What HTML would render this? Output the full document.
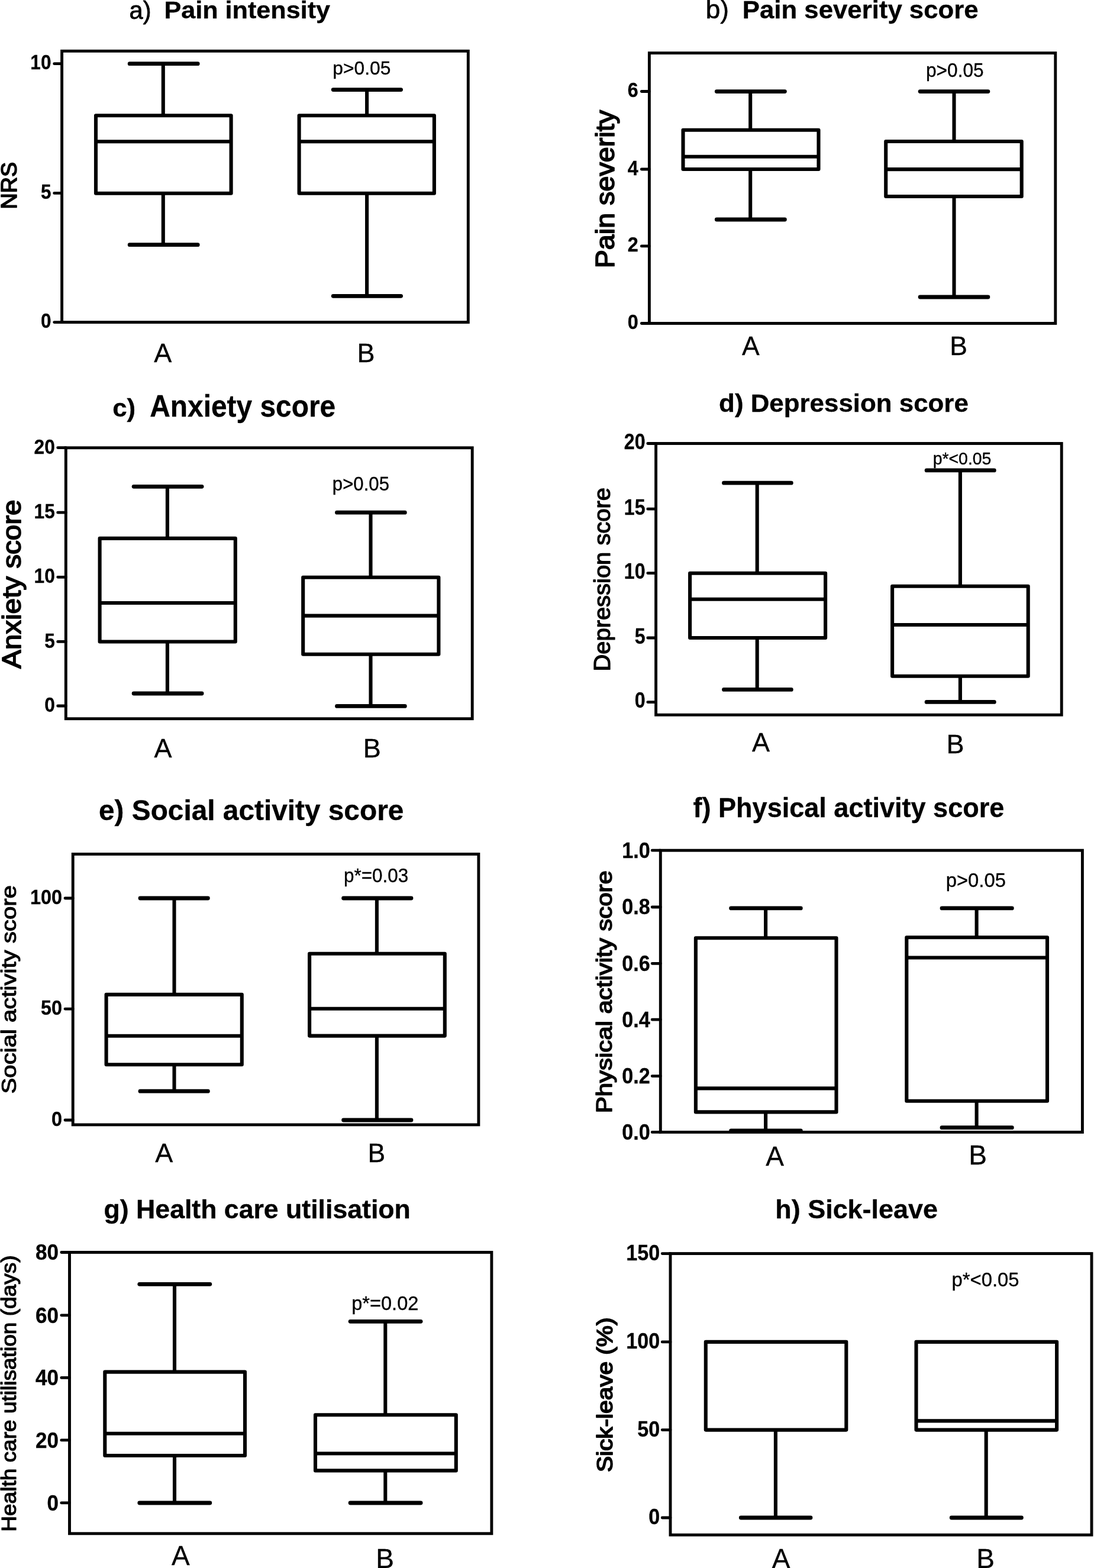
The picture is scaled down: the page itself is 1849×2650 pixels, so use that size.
<!DOCTYPE html>
<html lang="en">
<head>
<meta charset="utf-8">
<title>Box plots: groups A and B</title>
<style>
html,body{margin:0;padding:0;background:#fff;}
body{width:1849px;height:2650px;overflow:hidden;}
svg{display:block;font-family:"Liberation Sans",Arial,Helvetica,sans-serif;fill:#000;}
text{stroke:#000;stroke-width:0.35px;stroke-linejoin:round;}
.ln{fill:none;stroke:#000;stroke-width:6.1;stroke-linecap:round;stroke-linejoin:round;}
.ln .fr{stroke-linejoin:miter;stroke-width:4.9;}
.ln .cp{stroke-width:6.8;}
.ln .wh{stroke-linecap:butt;}
.ln .tk{stroke-width:4.8;}
</style>
</head>
<body>
<svg width="1849" height="2650" viewBox="0 0 1849 2650">
<rect width="1849" height="2650" fill="#fff"/>
<!-- panel a -->
<g class="ln">
<rect class="fr" x="104.6" y="86.3" width="686.7" height="458.3"/>
<path class="tk" d="M91.7 107.7H104.6M91.7 326.4H104.6M91.7 544.6H104.6"/>
<path class="wh" d="M275.8 107.7V195.3"/><path class="cp" d="M219.2 107.7H334.2"/>
<path class="wh" d="M275.8 326.7V413.7"/><path class="cp" d="M219.2 413.7H334.2"/>
<rect x="162.0" y="195.3" width="228.6" height="131.4"/>
<path class="wh" d="M162.0 239.2H390.6"/>
<path class="wh" d="M620.1 151.6V195.2"/><path class="cp" d="M563.2 151.6H677.6"/>
<path class="wh" d="M620.1 326.7V500.3"/><path class="cp" d="M563.2 500.3H677.6"/>
<rect x="505.6" y="195.2" width="228.3" height="131.5"/>
<path class="wh" d="M505.6 239.2H733.9"/>
</g>
<text transform="translate(86.4 116.9) scale(0.900 1)" font-size="35.0" font-weight="bold" text-anchor="end">10</text>
<text transform="translate(86.4 335.6) scale(0.900 1)" font-size="35.0" font-weight="bold" text-anchor="end">5</text>
<text transform="translate(86.4 553.8) scale(0.900 1)" font-size="35.0" font-weight="bold" text-anchor="end">0</text>
<text x="218.5" y="31.6" font-size="43.0" font-weight="normal" textLength="37.0" lengthAdjust="spacingAndGlyphs" style="stroke-width:0.8px">a)</text>
<text x="277.5" y="31.2" font-size="41.5" font-weight="bold" textLength="280.5" lengthAdjust="spacingAndGlyphs">Pain intensity</text>
<text x="562.3" y="125.6" font-size="32.0" font-weight="normal" textLength="98.0" lengthAdjust="spacingAndGlyphs">p&gt;0.05</text>
<text x="275.3" y="611.7" font-size="45.0" font-weight="normal" text-anchor="middle">A</text>
<text x="618.4" y="611.7" font-size="45.0" font-weight="normal" text-anchor="middle">B</text>
<text transform="translate(28.3 353.5) rotate(-90)" x="0" y="0" font-size="36.0" font-weight="normal" textLength="79.5" lengthAdjust="spacingAndGlyphs" style="stroke-width:1.6px">NRS</text>
<!-- panel b -->
<g class="ln">
<rect class="fr" x="1097.4" y="89.6" width="686.4" height="456.9"/>
<path class="tk" d="M1084.3 154.5H1097.4M1084.3 286.0H1097.4M1084.3 415.9H1097.4M1084.3 546.5H1097.4"/>
<path class="wh" d="M1268.2 154.6V219.7"/><path class="cp" d="M1211.3 154.6H1326.4"/>
<path class="wh" d="M1268.2 286.0V371.0"/><path class="cp" d="M1211.3 371.0H1326.4"/>
<rect x="1154.5" y="219.7" width="229.0" height="66.3"/>
<path class="wh" d="M1154.5 264.8H1383.5"/>
<path class="wh" d="M1612.5 154.6V239.0"/><path class="cp" d="M1555.1 154.6H1669.9"/>
<path class="wh" d="M1612.5 332.0V502.0"/><path class="cp" d="M1555.1 502.0H1669.9"/>
<rect x="1497.2" y="239.0" width="229.5" height="93.0"/>
<path class="wh" d="M1497.2 286.1H1726.7"/>
</g>
<text transform="translate(1078.8 164.0) scale(0.900 1)" font-size="36.0" font-weight="bold" text-anchor="end">6</text>
<text transform="translate(1078.8 295.5) scale(0.900 1)" font-size="36.0" font-weight="bold" text-anchor="end">4</text>
<text transform="translate(1078.8 425.4) scale(0.900 1)" font-size="36.0" font-weight="bold" text-anchor="end">2</text>
<text transform="translate(1078.8 556.0) scale(0.900 1)" font-size="36.0" font-weight="bold" text-anchor="end">0</text>
<text x="1192.8" y="31.0" font-size="45.0" font-weight="normal" textLength="39.2" lengthAdjust="spacingAndGlyphs" style="stroke-width:0.6px">b)</text>
<text x="1254.8" y="30.9" font-size="42.5" font-weight="bold" textLength="398.8" lengthAdjust="spacingAndGlyphs">Pain severity score</text>
<text x="1565.0" y="130.4" font-size="33.5" font-weight="normal" textLength="97.7" lengthAdjust="spacingAndGlyphs">p&gt;0.05</text>
<text x="1268.8" y="599.8" font-size="44.5" font-weight="normal" text-anchor="middle">A</text>
<text x="1620.0" y="599.8" font-size="44.5" font-weight="normal" text-anchor="middle">B</text>
<text transform="translate(1038.2 453.3) rotate(-90)" x="0" y="0" font-size="43.5" font-weight="normal" textLength="267.3" lengthAdjust="spacingAndGlyphs" style="stroke-width:1.7px">Pain severity</text>
<!-- panel c -->
<g class="ln">
<rect class="fr" x="111.3" y="756.8" width="686.9" height="457.9"/>
<path class="tk" d="M97.7 756.6H111.3M97.7 866.2H111.3M97.7 975.3H111.3M97.7 1084.4H111.3M97.7 1193.0H111.3"/>
<path class="wh" d="M282.9 822.3V909.9"/><path class="cp" d="M226.1 822.3H341.1"/>
<path class="wh" d="M282.9 1084.5V1172.0"/><path class="cp" d="M226.1 1172.0H341.1"/>
<rect x="168.6" y="909.9" width="229.2" height="174.6"/>
<path class="wh" d="M168.6 1019.0H397.8"/>
<path class="wh" d="M626.5 866.2V975.7"/><path class="cp" d="M569.5 866.2H684.3"/>
<path class="wh" d="M626.5 1105.8V1193.4"/><path class="cp" d="M569.5 1193.4H684.3"/>
<rect x="512.2" y="975.7" width="229.2" height="130.1"/>
<path class="wh" d="M512.2 1040.6H741.4"/>
</g>
<text transform="translate(92.8 766.7) scale(0.880 1)" font-size="36.0" font-weight="bold" text-anchor="end">20</text>
<text transform="translate(92.8 876.3) scale(0.880 1)" font-size="36.0" font-weight="bold" text-anchor="end">15</text>
<text transform="translate(92.8 985.4) scale(0.880 1)" font-size="36.0" font-weight="bold" text-anchor="end">10</text>
<text transform="translate(92.8 1094.5) scale(0.880 1)" font-size="36.0" font-weight="bold" text-anchor="end">5</text>
<text transform="translate(92.8 1203.1) scale(0.880 1)" font-size="36.0" font-weight="bold" text-anchor="end">0</text>
<text x="190.2" y="703.8" font-size="43.0" font-weight="bold" textLength="39.0" lengthAdjust="spacingAndGlyphs">c)</text>
<text x="253.2" y="703.8" font-size="52.0" font-weight="bold" textLength="314.0" lengthAdjust="spacingAndGlyphs">Anxiety score</text>
<text x="561.8" y="828.8" font-size="32.5" font-weight="normal" textLength="96.2" lengthAdjust="spacingAndGlyphs">p&gt;0.05</text>
<text x="275.4" y="1279.8" font-size="45.0" font-weight="normal" text-anchor="middle">A</text>
<text x="628.8" y="1279.8" font-size="45.0" font-weight="normal" text-anchor="middle">B</text>
<text transform="translate(34.6 1129.9) rotate(-90)" x="0" y="0" font-size="44.5" font-weight="normal" textLength="285.4" lengthAdjust="spacingAndGlyphs" style="stroke-width:1.7px">Anxiety score</text>
<!-- panel d -->
<g class="ln">
<rect class="fr" x="1108.6" y="749.5" width="685.6" height="458.7"/>
<path class="tk" d="M1094.8 749.5H1108.6M1094.8 860.2H1108.6M1094.8 968.6H1108.6M1094.8 1078.0H1108.6M1094.8 1186.6H1108.6"/>
<path class="wh" d="M1279.7 816.2V968.7"/><path class="cp" d="M1223.5 816.2H1337.3"/>
<path class="wh" d="M1279.7 1078.0V1165.4"/><path class="cp" d="M1223.5 1165.4H1337.3"/>
<rect x="1166.1" y="968.7" width="229.0" height="109.3"/>
<path class="wh" d="M1166.1 1012.8H1395.1"/>
<path class="wh" d="M1622.9 794.9V990.8"/><path class="cp" d="M1566.1 794.9H1680.3"/>
<path class="wh" d="M1622.9 1142.8V1186.4"/><path class="cp" d="M1566.1 1186.4H1680.3"/>
<rect x="1508.1" y="990.8" width="229.6" height="152.0"/>
<path class="wh" d="M1508.1 1056.0H1737.7"/>
</g>
<text transform="translate(1090.5 759.0) scale(0.880 1)" font-size="36.5" font-weight="bold" text-anchor="end">20</text>
<text transform="translate(1090.5 869.7) scale(0.880 1)" font-size="36.5" font-weight="bold" text-anchor="end">15</text>
<text transform="translate(1090.5 978.1) scale(0.880 1)" font-size="36.5" font-weight="bold" text-anchor="end">10</text>
<text transform="translate(1090.5 1087.5) scale(0.880 1)" font-size="36.5" font-weight="bold" text-anchor="end">5</text>
<text transform="translate(1090.5 1196.1) scale(0.880 1)" font-size="36.5" font-weight="bold" text-anchor="end">0</text>
<text x="1215.1" y="695.8" font-size="42.5" font-weight="bold" textLength="421.7" lengthAdjust="spacingAndGlyphs">d) Depression score</text>
<text x="1576.7" y="784.6" font-size="29.5" font-weight="normal" textLength="98.7" lengthAdjust="spacingAndGlyphs">p*&lt;0.05</text>
<text x="1286.0" y="1270.4" font-size="45.0" font-weight="normal" text-anchor="middle">A</text>
<text x="1614.6" y="1273.2" font-size="45.0" font-weight="normal" text-anchor="middle">B</text>
<text transform="translate(1031.0 1134.6) rotate(-90)" x="0" y="0" font-size="39.0" font-weight="normal" textLength="310.6" lengthAdjust="spacingAndGlyphs" style="stroke-width:1.3px">Depression score</text>
<!-- panel e -->
<g class="ln">
<rect class="fr" x="123.2" y="1443.5" width="685.7" height="457.4"/>
<path class="tk" d="M110.0 1518.0H123.2M110.0 1705.1H123.2M110.0 1893.0H123.2"/>
<path class="wh" d="M294.5 1518.0V1680.9"/><path class="cp" d="M237.0 1518.0H351.4"/>
<path class="wh" d="M294.5 1799.3V1844.2"/><path class="cp" d="M237.0 1844.2H351.4"/>
<rect x="179.6" y="1680.9" width="229.2" height="118.4"/>
<path class="wh" d="M179.6 1750.8H408.8"/>
<path class="wh" d="M636.9 1518.0V1611.8"/><path class="cp" d="M580.6 1518.0H695.0"/>
<path class="wh" d="M636.9 1750.6V1893.0"/><path class="cp" d="M580.6 1893.0H695.0"/>
<rect x="523.1" y="1611.8" width="228.7" height="138.8"/>
<path class="wh" d="M523.1 1704.8H751.8"/>
</g>
<text transform="translate(105.0 1528.3) scale(0.900 1)" font-size="36.0" font-weight="bold" text-anchor="end">100</text>
<text transform="translate(105.0 1715.4) scale(0.900 1)" font-size="36.0" font-weight="bold" text-anchor="end">50</text>
<text transform="translate(105.0 1903.3) scale(0.900 1)" font-size="36.0" font-weight="bold" text-anchor="end">0</text>
<text x="167.0" y="1385.7" font-size="48.8" font-weight="bold" textLength="515.3" lengthAdjust="spacingAndGlyphs">e) Social activity score</text>
<text x="581.0" y="1490.5" font-size="32.5" font-weight="normal" textLength="109.2" lengthAdjust="spacingAndGlyphs">p*=0.03</text>
<text x="277.2" y="1964.4" font-size="45.0" font-weight="normal" text-anchor="middle">A</text>
<text x="636.3" y="1964.4" font-size="44.5" font-weight="normal" text-anchor="middle">B</text>
<text transform="translate(26.6 1848.4) rotate(-90)" x="0" y="0" font-size="35.0" font-weight="normal" textLength="352.3" lengthAdjust="spacingAndGlyphs" style="stroke-width:1.1px">Social activity score</text>
<!-- panel f -->
<g class="ln">
<rect class="fr" x="1116.3" y="1437.2" width="713.1" height="476.2"/>
<path class="tk" d="M1102.2 1437.2H1116.3M1102.2 1533.0H1116.3M1102.2 1628.3H1116.3M1102.2 1723.2H1116.3M1102.2 1818.6H1116.3M1102.2 1913.4H1116.3"/>
<path class="wh" d="M1294.1 1534.9V1585.3"/><path class="cp" d="M1235.6 1534.9H1353.3"/>
<path class="wh" d="M1294.1 1879.4V1911.0"/><path class="cp" d="M1235.6 1911.0H1353.3"/>
<rect x="1175.9" y="1585.3" width="237.6" height="294.1"/>
<path class="wh" d="M1175.9 1839.4H1413.5"/>
<path class="wh" d="M1650.6 1534.9V1584.3"/><path class="cp" d="M1592.0 1534.9H1710.3"/>
<path class="wh" d="M1650.6 1860.8V1905.7"/><path class="cp" d="M1592.0 1905.7H1710.3"/>
<rect x="1532.3" y="1584.3" width="237.7" height="276.5"/>
<path class="wh" d="M1532.3 1618.5H1770.0"/>
</g>
<text transform="translate(1098.8 1449.6) scale(0.907 1)" font-size="37.7" font-weight="bold" text-anchor="end">1.0</text>
<text transform="translate(1098.8 1545.4) scale(0.907 1)" font-size="37.7" font-weight="bold" text-anchor="end">0.8</text>
<text transform="translate(1098.8 1640.7) scale(0.907 1)" font-size="37.7" font-weight="bold" text-anchor="end">0.6</text>
<text transform="translate(1098.8 1735.6) scale(0.907 1)" font-size="37.7" font-weight="bold" text-anchor="end">0.4</text>
<text transform="translate(1098.8 1831.0) scale(0.907 1)" font-size="37.7" font-weight="bold" text-anchor="end">0.2</text>
<text transform="translate(1098.8 1925.8) scale(0.907 1)" font-size="37.7" font-weight="bold" text-anchor="end">0.0</text>
<text x="1171.5" y="1380.9" font-size="46.0" font-weight="bold" textLength="525.8" lengthAdjust="spacingAndGlyphs">f) Physical activity score</text>
<text x="1598.7" y="1499.2" font-size="33.0" font-weight="normal" textLength="101.3" lengthAdjust="spacingAndGlyphs">p&gt;0.05</text>
<text x="1309.7" y="1970.3" font-size="46.0" font-weight="normal" text-anchor="middle">A</text>
<text x="1652.5" y="1968.0" font-size="46.0" font-weight="normal" text-anchor="middle">B</text>
<text transform="translate(1034.4 1881.3) rotate(-90)" x="0" y="0" font-size="36.0" font-weight="normal" textLength="410.2" lengthAdjust="spacingAndGlyphs" style="stroke-width:1.5px">Physical activity score</text>
<!-- panel g -->
<g class="ln">
<rect class="fr" x="117.5" y="2116.5" width="713.4" height="475.3"/>
<path class="tk" d="M103.8 2116.5H117.5M103.8 2222.8H117.5M103.8 2328.4H117.5M103.8 2433.9H117.5M103.8 2539.8H117.5"/>
<path class="wh" d="M295.0 2170.3V2318.6"/><path class="cp" d="M235.8 2170.3H354.8"/>
<path class="wh" d="M295.0 2460.0V2540.0"/><path class="cp" d="M235.8 2540.0H354.8"/>
<rect x="177.3" y="2318.6" width="236.7" height="141.4"/>
<path class="wh" d="M177.3 2422.8H414.0"/>
<path class="wh" d="M651.3 2233.3V2391.3"/><path class="cp" d="M592.1 2233.3H711.1"/>
<path class="wh" d="M651.3 2485.4V2540.0"/><path class="cp" d="M592.1 2540.0H711.1"/>
<rect x="533.0" y="2391.3" width="237.8" height="94.1"/>
<path class="wh" d="M533.0 2456.5H770.8"/>
</g>
<text transform="translate(99.0 2129.4) scale(0.930 1)" font-size="37.7" font-weight="bold" text-anchor="end">80</text>
<text transform="translate(99.0 2235.7) scale(0.930 1)" font-size="37.7" font-weight="bold" text-anchor="end">60</text>
<text transform="translate(99.0 2341.3) scale(0.930 1)" font-size="37.7" font-weight="bold" text-anchor="end">40</text>
<text transform="translate(99.0 2446.8) scale(0.930 1)" font-size="37.7" font-weight="bold" text-anchor="end">20</text>
<text transform="translate(99.0 2552.7) scale(0.930 1)" font-size="37.7" font-weight="bold" text-anchor="end">0</text>
<text x="175.6" y="2058.9" font-size="44.5" font-weight="bold" textLength="518.2" lengthAdjust="spacingAndGlyphs">g) Health care utilisation</text>
<text x="594.2" y="2214.0" font-size="33.5" font-weight="normal" textLength="113.2" lengthAdjust="spacingAndGlyphs">p*=0.02</text>
<text x="305.4" y="2645.0" font-size="46.0" font-weight="normal" text-anchor="middle">A</text>
<text x="650.7" y="2650.2" font-size="46.0" font-weight="normal" text-anchor="middle">B</text>
<text transform="translate(27.2 2588.8) rotate(-90)" x="0" y="0" font-size="34.5" font-weight="normal" textLength="467.4" lengthAdjust="spacingAndGlyphs" style="stroke-width:1.2px">Health care utilisation (days)</text>
<!-- panel h -->
<g class="ln">
<rect class="fr" x="1133.0" y="2118.6" width="712.0" height="475.5"/>
<path class="tk" d="M1119.2 2118.6H1133.0M1119.2 2267.9H1133.0M1119.2 2416.6H1133.0M1119.2 2565.0H1133.0"/>
<path class="wh" d="M1310.9 2416.6V2565.0"/><path class="cp" d="M1252.3 2565.0H1370.0"/>
<rect x="1192.8" y="2267.9" width="237.5" height="148.7"/>
<path class="wh" d="M1666.7 2416.6V2565.0"/><path class="cp" d="M1608.2 2565.0H1726.4"/>
<rect x="1548.5" y="2267.9" width="237.6" height="148.7"/>
<path class="wh" d="M1548.5 2401.4H1786.1"/>
</g>
<text transform="translate(1115.2 2130.0) scale(0.910 1)" font-size="37.5" font-weight="bold" text-anchor="end">150</text>
<text transform="translate(1115.2 2279.3) scale(0.910 1)" font-size="37.5" font-weight="bold" text-anchor="end">100</text>
<text transform="translate(1115.2 2428.0) scale(0.910 1)" font-size="37.5" font-weight="bold" text-anchor="end">50</text>
<text transform="translate(1115.2 2576.4) scale(0.910 1)" font-size="37.5" font-weight="bold" text-anchor="end">0</text>
<text x="1310.3" y="2058.9" font-size="45.0" font-weight="bold" textLength="274.7" lengthAdjust="spacingAndGlyphs">h) Sick-leave</text>
<text x="1608.5" y="2174.3" font-size="33.5" font-weight="normal" textLength="114.1" lengthAdjust="spacingAndGlyphs">p*&lt;0.05</text>
<text x="1320.1" y="2649.5" font-size="46.0" font-weight="normal" text-anchor="middle">A</text>
<text x="1665.6" y="2649.5" font-size="46.0" font-weight="normal" text-anchor="middle">B</text>
<text transform="translate(1034.6 2488.0) rotate(-90)" x="0" y="0" font-size="36.0" font-weight="normal" textLength="261.4" lengthAdjust="spacingAndGlyphs" style="stroke-width:1.7px">Sick-leave (%)</text>
</svg>
</body>
</html>
